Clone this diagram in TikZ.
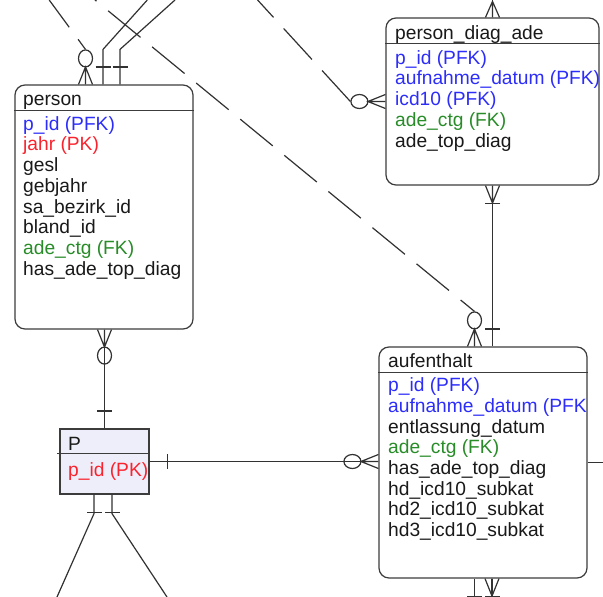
\documentclass[tikz,border=0pt]{standalone}
\usepackage{fontspec}
\setmainfont{Liberation Sans}
\definecolor{pfk}{RGB}{45,45,250}
\definecolor{pk}{RGB}{250,35,45}
\definecolor{fk}{RGB}{40,140,40}
\definecolor{ink}{RGB}{25,25,25}
\definecolor{edgeclr}{RGB}{60,60,60}
\definecolor{lineclr}{RGB}{50,50,50}
\definecolor{pfill}{RGB}{238,238,250}
\tikzset{
  conn/.style={draw=lineclr, line width=1.2pt},
  dashline/.style={conn, dash pattern=on 42pt off 15pt},
  entity/.style={draw=edgeclr, line width=1.2pt, fill=white, rounded corners=10pt, inner sep=0pt},
  plainentity/.style={draw=edgeclr, line width=1.2pt, fill=pfill, inner sep=0pt},
  sepline/.style={draw=edgeclr, line width=1.2pt},
  fld/.style={inner sep=0pt, anchor=base west, text=ink, font=\fontsize{19.2}{20.75}\selectfont},
  % zero or many: crow's foot plus circle
  pics/zeromany/.style={code={
    \draw[conn] (0,-7) -- (17.5,0) -- (0,7) (0,0) -- (17.5,0);
    \draw[conn] (26,0) ellipse [x radius=8.5pt, y radius=7pt];
  }},
  % exactly one: a single bar across the line
  pics/onemark/.style={code={
    \draw[conn] (17.5,-7.5) -- (17.5,7.5);
  }},
  % one or many: crow's foot plus bar
  pics/onemany/.style={code={
    \draw[conn] (0,-7) -- (17.5,0) -- (0,7) (0,0) -- (17.5,0);
    \draw[conn] (17.5,-7.5) -- (17.5,7.5);
  }},
  % many: crow's foot only
  pics/many/.style={code={
    \draw[conn] (0,-7) -- (16,0) -- (0,7) (0,0) -- (16,0);
  }},
}
\begin{document}
\begin{tikzpicture}[x=1pt,y=-1pt]
\fill[white] (0,0) rectangle (603,597);
\useasboundingbox (0,0) rectangle (603,597);

% free ends at the picture border
\coordinate (topA) at (147.3,0);
\coordinate (topB) at (175,0);
\coordinate (dashOne) at (257.6,0);
\coordinate (dashTwo) at (95,0);
\coordinate (dashThree) at (49.2,0);
\coordinate (botC) at (57,597);
\coordinate (botD) at (167,597);
\coordinate (bottomedge) at (0,597);
\coordinate (topedge) at (0,0);
\coordinate (rightedge) at (603,462.5);

% entity boxes
\node[entity, minimum width=178pt, minimum height=244pt] (person) at (104,207) {};
\node[entity, minimum width=213pt, minimum height=167pt] (pda) at (492.5,101.5) {};
\node[entity, minimum width=208pt, minimum height=231pt] (aufenthalt) at (483,462.5) {};
\node[plainentity, minimum width=89pt, minimum height=65pt] (P) at (104.5,461.5) {};

% header separators
\draw[sepline] ([yshift=-25.7pt]person.north west) -- ([yshift=-25.7pt]person.north east);
\draw[sepline] ([yshift=-26pt]pda.north west) -- ([yshift=-26pt]pda.north east);
\draw[sepline] ([yshift=-26pt]aufenthalt.north west) -- ([yshift=-26pt]aufenthalt.north east);
\draw[sepline] ([yshift=-25pt,xshift=-2pt]P.north west) -- ([yshift=-25pt]P.north east);

% person
\node[fld] (person-title) at (23,105) {person};
\foreach \t/\c [count=\i] in {p\_id (PFK)/pfk, jahr (PK)/pk, gesl/ink, gebjahr/ink,
    sa\_bezirk\_id/ink, bland\_id/ink, ade\_ctg (FK)/fk, has\_ade\_top\_diag/ink}
  \node[fld, text=\c] (person-f\i) at (23,{130+20.75*(\i-1)}) {\t};

% person_diag_ade
\node[fld] (pda-title) at (395,39.3) {person\_diag\_ade};
\foreach \t/\c [count=\i] in {p\_id (PFK)/pfk, aufnahme\_datum (PFK)/pfk, icd10 (PFK)/pfk,
    ade\_ctg (FK)/fk, ade\_top\_diag/ink}
  \node[fld, text=\c] (pda-f\i) at (395,{64+20.75*(\i-1)}) {\t};

% aufenthalt
\begin{scope}
\clip (379,347) rectangle (586.4,578);
\node[fld] (auf-title) at (388,367.7) {aufenthalt};
\foreach \t/\c [count=\i] in {p\_id (PFK)/pfk, aufnahme\_datum (PFK)/pfk, entlassung\_datum/ink,
    ade\_ctg (FK)/fk, has\_ade\_top\_diag/ink, hd\_icd10\_subkat/ink,
    hd2\_icd10\_subkat/ink, hd3\_icd10\_subkat/ink}
  \node[fld, text=\c] (auf-f\i) at (388,{391.7+20.7*(\i-1)}) {\t};
\end{scope}

% P
\node[fld] (P-title) at (68,450) {P};
\node[fld, text=pk] (P-f1) at (68,476) {p\_id (PK)};

% person -- P
\draw[conn] (person.south -| P.north) -- (P.north);
\pic[rotate=-90] at (person.south -| P.north) {zeromany};
\pic[rotate=90] at (P.north) {onemark};

% P -- aufenthalt
\draw[conn] (P.east) -- (aufenthalt.west |- P.east);
\pic at (P.east) {onemark};
\pic[rotate=180] at (aufenthalt.west |- P.east) {zeromany};

% person_diag_ade -- aufenthalt
\draw[conn] (pda.south) -- (aufenthalt.north -| pda.south);
\pic[rotate=-90] at (pda.south) {onemany};
\pic[rotate=90] at (aufenthalt.north -| pda.south) {onemark};

% person_diag_ade upwards
\draw[conn] (pda.north) -- (pda.north |- topedge);
\pic[rotate=90] at (pda.north) {many};

% aufenthalt to the right and downwards
\draw[conn] (aufenthalt.east) -- (rightedge);
\draw[conn] ([xshift=-8.5pt]aufenthalt.south) -- ([xshift=-8.5pt]aufenthalt.south |- bottomedge);
\pic[rotate=-90] at ([xshift=-8.5pt]aufenthalt.south) {onemark};
\draw[conn] ([xshift=9pt]aufenthalt.south) -- ([xshift=9pt]aufenthalt.south |- bottomedge);
\pic[rotate=-90] at ([xshift=9pt]aufenthalt.south) {onemany};

% person upwards (solid)
\draw[conn] ([xshift=-1pt]person.north) -- ++(0,-35) -- (topA);
\pic[rotate=90] at ([xshift=-1pt]person.north) {onemark};
\draw[conn] ([xshift=16pt]person.north) -- ++(0,-35) -- (topB);
\pic[rotate=90] at ([xshift=16pt]person.north) {onemark};

% P downwards
\draw[conn] ([xshift=-10.5pt]P.south) -- ++(0,19) -- (botC);
\pic[rotate=-90] at ([xshift=-10.5pt]P.south) {onemark};
\draw[conn] ([xshift=7.5pt]P.south) -- ++(0,19) -- (botD);
\pic[rotate=-90] at ([xshift=7.5pt]P.south) {onemark};

% dashed (non-identifying) relationships
\draw[dashline] ([xshift=-35pt]pda.west) -- (dashOne);
\pic[rotate=180] at (pda.west) {zeromany};
\draw[dashline, dash phase=24pt] ([xshift=-8.5pt,yshift=35pt]aufenthalt.north) -- (dashTwo);
\pic[rotate=90] at ([xshift=-8.5pt]aufenthalt.north) {zeromany};
\draw[dashline, dash phase=29.5pt] ([xshift=-18.5pt,yshift=35pt]person.north) -- (dashThree);
\pic[rotate=90] at ([xshift=-18.5pt]person.north) {zeromany};
\end{tikzpicture}
\end{document}
